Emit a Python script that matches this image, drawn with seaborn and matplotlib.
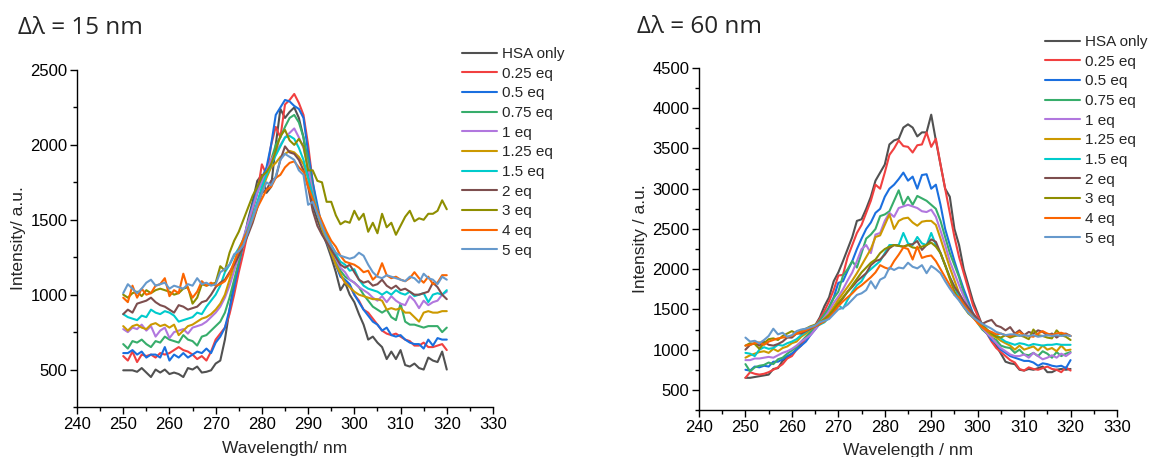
import numpy as np
import pandas as pd
import matplotlib
matplotlib.use("Agg")
import matplotlib.pyplot as plt
from matplotlib.ticker import MultipleLocator
import seaborn as sns

wavelength = list(range(250, 321))
labels = ["HSA only", "0.25 eq", "0.5 eq", "0.75 eq", "1 eq", "1.25 eq",
          "1.5 eq", "2 eq", "3 eq", "4 eq", "5 eq"]
colors = ["#515151", "#F14040", "#1A6FDF", "#37AD6B", "#B177DE", "#CC9900",
          "#00CBCC", "#7D4E4E", "#8E8E00", "#FB6501", "#6699CC"]

# ---- delta lambda = 15 nm ----
d15_hsa = [495,495,495,485,510,480,450,500,480,500,
           470,480,470,450,510,500,520,480,485,495,
           540,560,700,900,1080,1200,1350,1500,1620,1760,
           1800,1680,1720,2000,2240,2180,2220,2250,2180,2050,
           1820,1600,1500,1420,1340,1250,1150,1030,1080,1000,
           950,870,800,700,720,680,650,570,620,570,
           630,530,520,540,510,500,580,560,550,620,500]
d15_025 = [590,560,620,550,600,590,600,580,610,600,
           610,630,650,630,620,600,570,590,560,620,
           700,740,780,870,1000,1150,1280,1420,1560,1680,
           1870,1800,2000,2120,2050,2270,2300,2340,2280,2200,
           2000,1750,1560,1450,1380,1280,1200,1130,1080,1060,
           1000,960,900,880,840,800,760,740,730,740,
           720,700,690,660,660,680,650,650,660,670,630]
d15_05 = [610,610,630,600,620,580,600,600,580,650,
          560,600,580,610,580,600,620,610,640,610,
          680,720,780,900,1050,1200,1350,1480,1600,1700,
          1780,1850,2000,2200,2250,2300,2290,2260,2240,2180,
          1950,1750,1600,1450,1350,1280,1200,1120,1100,1070,
          1000,950,900,860,820,800,760,780,730,720,
          730,700,680,670,670,640,700,660,710,700,700]
d15_075 = [670,640,690,680,700,670,650,690,680,720,
           700,690,680,730,700,690,660,720,730,760,
           790,820,880,980,1100,1220,1360,1480,1580,1680,
           1760,1820,1900,2000,2050,2120,2180,2200,2150,2050,
           1900,1700,1560,1450,1370,1300,1230,1160,1120,1100,
           1080,1050,1000,960,920,900,880,900,850,830,
           940,820,800,800,790,780,790,790,790,750,780]
d15_1 = [770,750,780,770,800,760,790,720,760,780,
         710,750,760,770,740,780,790,800,820,850,
         880,920,980,1060,1160,1260,1380,1480,1580,1680,
         1750,1820,1900,1950,2000,2050,2080,2110,2050,1980,
         1850,1680,1550,1450,1370,1300,1240,1180,1150,1100,
         1080,1050,1030,1010,980,960,990,950,990,960,
         940,930,990,960,910,960,930,950,960,1000,1020]
d15_125 = [790,760,790,800,780,770,800,810,790,800,
           780,800,730,760,790,800,820,840,850,870,
           900,940,1000,1100,1200,1300,1360,1420,1500,1600,
           1700,1780,1850,1880,1920,1940,1960,1950,1920,1870,
           1780,1650,1540,1440,1360,1280,1200,1140,1080,1050,
           1020,1000,990,980,970,970,960,900,910,900,
           910,880,880,850,820,880,890,880,880,890,890]
d15_15 = [870,850,840,830,860,850,900,880,870,890,
          880,860,820,830,840,850,880,870,920,960,
          1000,1060,1150,1200,1260,1310,1370,1440,1520,1620,
          1720,1800,1870,1930,1990,2050,2060,2040,1980,1900,
          1780,1660,1560,1480,1400,1330,1270,1220,1200,1160,
          1170,1100,1060,1040,1030,1020,1000,1020,1000,1030,
          1010,1000,1020,990,1000,1010,950,1000,1010,1000,1030]
d15_2 = [870,900,880,940,950,960,980,950,930,920,
         900,880,930,920,900,910,920,950,960,1000,
         1050,1080,1100,1150,1200,1260,1330,1400,1480,1580,
         1680,1700,1760,1780,1900,1990,1950,1940,1900,1830,
         1720,1560,1460,1400,1350,1300,1250,1200,1180,1200,
         1150,1100,1080,1090,1060,1070,1100,1060,1040,1060,
         1030,1040,1020,1000,1000,1010,1020,1080,1050,1000,970]
d15_3 = [1000,980,1010,1020,990,1030,1010,1030,1040,1030,
         1020,1000,1010,1040,1050,940,980,1070,1060,1070,
         1080,1190,1160,1280,1360,1420,1500,1580,1660,1720,
         1790,1820,1870,1960,2060,2100,2030,2000,2040,1990,
         1830,1830,1760,1750,1620,1620,1530,1470,1490,1480,
         1560,1500,1540,1420,1480,1410,1540,1450,1480,1400,
         1460,1520,1560,1490,1510,1500,1540,1540,1560,1630,1570]
d15_4 = [980,950,1060,980,1040,1000,1010,1060,1070,1110,
         990,1030,1010,1140,1040,980,1020,1090,1060,1080,
         1060,1070,1090,1140,1220,1300,1370,1430,1500,1580,
         1640,1700,1720,1780,1800,1850,1880,1890,1850,1820,
         1720,1640,1560,1490,1420,1360,1320,1260,1220,1210,
         1200,1180,1150,1160,1100,1130,1210,1130,1110,1120,
         1100,1090,1110,1150,1110,1080,1120,1070,1080,1130,1130]
d15_5 = [1010,1070,1040,1010,1040,1080,1100,1060,1070,1080,
         1040,1060,1050,1040,1070,1060,1110,1070,1080,1060,
         1070,1150,1170,1200,1270,1290,1330,1420,1510,1600,
         1680,1750,1730,1790,1900,1940,1920,1900,1830,1800,
         1600,1620,1540,1460,1380,1330,1280,1260,1250,1240,
         1250,1280,1260,1200,1150,1120,1110,1130,1120,1110,
         1100,1090,1120,1110,1080,1140,1110,1100,1070,1120,1100]

# ---- delta lambda = 60 nm ----
d60_hsa = [650,650,660,670,680,690,760,770,860,900,
           950,1000,1080,1150,1220,1300,1400,1540,1650,1850,
           1960,2100,2250,2400,2600,2620,2750,2900,3100,3200,
           3300,3550,3600,3620,3760,3800,3760,3650,3700,3700,
           3920,3600,3300,3000,2900,2500,2300,2000,1800,1600,
           1450,1300,1200,1150,1050,950,850,830,820,750,
           740,760,750,770,790,720,720,750,760,750,760]
d60_025 = [650,720,700,690,700,720,750,780,820,890,
           920,1000,1050,1140,1220,1300,1380,1480,1600,1740,
           1920,1930,2150,2300,2450,2550,2700,2850,3050,3000,
           3200,3420,3500,3600,3530,3520,3450,3540,3550,3700,
           3520,3620,3300,3000,2700,2400,2150,1950,1750,1550,
           1420,1300,1200,1100,1020,970,920,870,840,760,
           740,780,760,750,770,790,760,750,720,780,740]
d60_05 = [750,740,790,780,800,790,850,850,880,920,
          950,1000,1050,1100,1180,1250,1320,1420,1530,1650,
          1830,1850,1980,2100,2250,2380,2500,2580,2700,2750,
          2900,3000,3050,3120,3200,3100,3150,3000,3170,3180,
          3000,3050,2800,2500,2300,2100,1920,1750,1600,1450,
          1360,1260,1200,1120,1080,1000,960,920,900,880,
          860,860,840,800,830,820,800,790,800,770,870]
d60_075 = [820,730,780,800,810,840,820,880,900,950,
           990,1030,1100,1160,1220,1290,1360,1440,1520,1640,
           1720,1920,2000,2100,2020,2200,2380,2430,2500,2660,
           2680,2720,2850,2980,2800,2900,2800,2910,2880,2850,
           2800,2750,2600,2400,2200,2050,1900,1700,1550,1430,
           1330,1250,1200,1150,1120,1050,1030,1020,960,1000,
           940,930,960,920,980,950,900,970,920,950,970]
d60_1 = [870,870,890,890,900,910,900,930,960,980,
         1010,1050,1100,1140,1180,1250,1330,1400,1480,1580,
         1660,1750,1860,1960,2100,2250,2300,2200,2430,2450,
         2600,2700,2650,2760,2780,2800,2780,2760,2720,2710,
         2740,2650,2480,2300,2100,1950,1800,1660,1530,1420,
         1340,1270,1200,1150,1080,1020,980,940,920,920,
         940,900,960,920,880,900,930,900,950,920,960]
d60_125 = [900,930,950,970,980,960,1010,980,1020,1040,
           1080,1100,1160,1200,1250,1290,1330,1380,1440,1530,
           1620,1700,1780,1860,1950,2050,2150,2250,2400,2420,
           2550,2680,2500,2600,2630,2640,2580,2540,2590,2600,
           2600,2550,2380,2200,2020,1860,1700,1580,1480,1400,
           1340,1280,1230,1180,1150,1110,1080,1050,1000,1050,
           1000,1020,1040,990,1050,1000,1020,980,1050,990,1000]
d60_15 = [960,950,920,1000,1030,1010,1020,1060,1050,1080,
          1100,1130,1180,1220,1260,1290,1310,1340,1400,1470,
          1550,1510,1620,1720,1800,1850,1950,2000,2050,2100,
          2200,2300,2300,2300,2450,2320,2300,2400,2320,2300,
          2450,2300,2200,2050,1900,1780,1650,1560,1480,1420,
          1370,1320,1250,1200,1180,1140,1100,1080,1060,1080,
          1070,1050,1070,1060,1050,1060,1060,1070,1060,1060,1060]
d60_2 = [1000,1060,1080,1050,1100,1060,1050,1070,1100,1150,
         1150,1200,1200,1230,1260,1290,1320,1370,1420,1480,
         1560,1640,1720,1780,1850,1900,1950,2050,2100,2120,
         2180,2260,2300,2290,2280,2300,2310,2350,2240,2300,
         2370,2340,2200,2050,1900,1780,1700,1600,1520,1450,
         1380,1320,1350,1370,1300,1280,1240,1280,1200,1240,
         1180,1220,1200,1240,1220,1180,1200,1150,1190,1200,1170]
d60_3 = [1050,1080,1070,1010,1080,1130,1140,1120,1170,1200,
         1230,1200,1240,1260,1290,1310,1340,1380,1430,1500,
         1580,1650,1720,1800,1880,1960,2020,2080,2120,2200,
         2250,2280,2300,2290,2280,2300,2270,2260,2280,2300,
         2330,2280,2200,2050,1880,1720,1620,1530,1450,1400,
         1350,1300,1250,1200,1160,1150,1180,1150,1170,1180,
         1160,1130,1250,1180,1170,1150,1140,1240,1180,1160,1120]
d60_4 = [1050,1060,1080,1090,1060,1100,1120,1140,1150,1160,
         1170,1200,1220,1240,1270,1290,1320,1350,1400,1460,
         1540,1600,1650,1700,1760,1800,1850,1900,1960,2050,
         2020,2000,2100,2180,2270,2250,2120,2280,2140,2160,
         2170,2100,2000,1900,1800,1680,1650,1560,1480,1400,
         1330,1280,1240,1220,1190,1200,1180,1170,1190,1220,
         1180,1170,1160,1200,1230,1200,1180,1200,1210,1190,1170]
d60_5 = [1150,1100,1110,1080,1120,1170,1260,1190,1210,1160,
         1180,1230,1250,1260,1280,1300,1340,1360,1380,1440,
         1500,1520,1560,1620,1680,1700,1740,1850,1760,1870,
         1900,2020,1990,2020,2010,2080,2030,2010,2050,1950,
         2040,2000,1950,1850,1760,1680,1610,1530,1460,1400,
         1360,1320,1290,1260,1220,1200,1180,1190,1190,1170,
         1180,1170,1180,1160,1170,1180,1170,1180,1170,1180,1170]

series15 = [d15_hsa, d15_025, d15_05, d15_075, d15_1, d15_125,
            d15_15, d15_2, d15_3, d15_4, d15_5]
series60 = [d60_hsa, d60_025, d60_05, d60_075, d60_1, d60_125,
            d60_15, d60_2, d60_3, d60_4, d60_5]

sns.set_style("ticks")
plt.rcParams["font.family"] = ["Liberation Sans", "DejaVu Sans"]

W, H = 1151, 457
fig = plt.figure(figsize=(W / 100, H / 100), dpi=100)

def px_axes(x0, y0, x1, y1):
    return fig.add_axes([x0 / W, 1 - y1 / H, (x1 - x0) / W, (y1 - y0) / H])

ax1 = px_axes(77, 70, 493, 407)
ax2 = px_axes(699, 68, 1117, 410)

def draw(ax, series, ylim, ymajor, xlabel, ylabel, xpad, ypad):
    for name, col, vals in zip(labels, colors, series):
        df = pd.DataFrame({"wl": wavelength, "I": vals})
        sns.lineplot(data=df, x="wl", y="I", ax=ax, color=col,
                     linewidth=1.5, label=name, legend=False)
    ax.set_xlim(240, 330)
    ax.set_ylim(*ylim)
    ax.xaxis.set_major_locator(MultipleLocator(10))
    ax.xaxis.set_minor_locator(MultipleLocator(5))
    ax.yaxis.set_major_locator(MultipleLocator(ymajor))
    ax.yaxis.set_minor_locator(MultipleLocator(ymajor / 2))
    for s in ["top", "right"]:
        ax.spines[s].set_visible(False)
    for s in ["left", "bottom"]:
        ax.spines[s].set_color("black")
        ax.spines[s].set_linewidth(1.0)
    ax.tick_params(which="major", direction="out", length=5, width=1,
                   labelsize=12, colors="black", pad=2)
    ax.tick_params(which="minor", direction="out", length=3, width=1,
                   colors="black")
    ax.set_xlabel(xlabel, fontsize=12.5, labelpad=xpad)
    ax.set_ylabel(ylabel, fontsize=12.5, labelpad=ypad)

draw(ax1, series15, (250, 2500), 500, "Wavelength/ nm", "Intensity/ a.u.", 7, 3)
draw(ax2, series60, (250, 4500), 500, "Wavelength / nm", "Intensity / a.u.", 6, 3)

leg_kw = dict(loc="upper left", frameon=False, fontsize=11, handlelength=2.3,
              handletextpad=0.3, labelspacing=0.37, borderpad=0,
              borderaxespad=0)
h1, l1 = ax1.get_legend_handles_labels()
fig.legend(h1, l1, bbox_to_anchor=(462 / W, 1 - 47 / H), **leg_kw)
h2, l2 = ax2.get_legend_handles_labels()
fig.legend(h2, l2, bbox_to_anchor=(1045 / W, 1 - 35 / H), **leg_kw)

fig.text(18 / W, 1 - 34 / H, "Δλ = 15 nm", fontsize=17.5,
         family=["Open Sans", "DejaVu Sans"], ha="left", va="baseline")
fig.text(637 / W, 1 - 33 / H, "Δλ = 60 nm", fontsize=17.5,
         family=["Open Sans", "DejaVu Sans"], ha="left", va="baseline")

fig.savefig("out.png", dpi=100)
